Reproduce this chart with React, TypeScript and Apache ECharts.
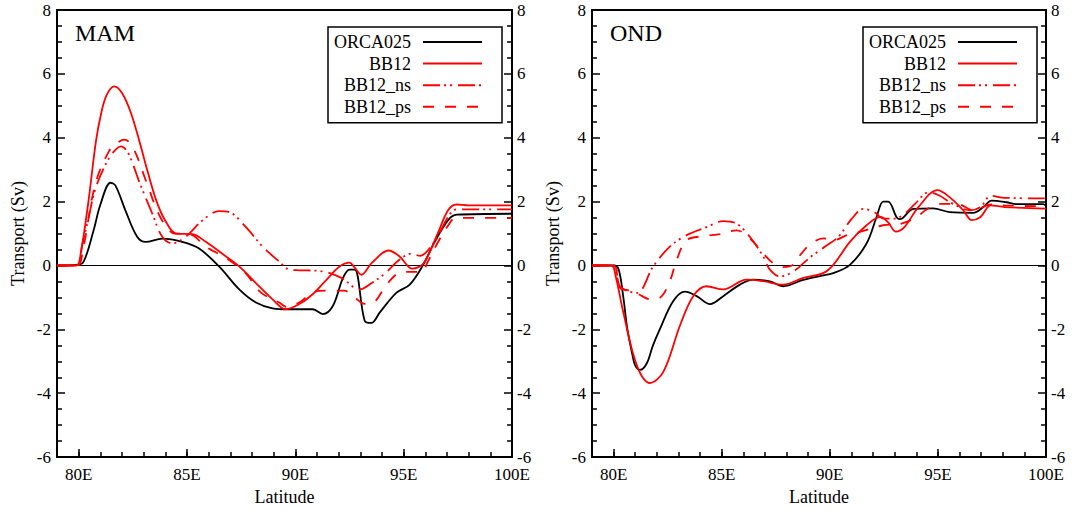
import React, { useEffect, useRef } from 'react';
import * as echarts from 'echarts';

const FONT = 'Liberation Serif';

const seriesNames = ['ORCA025', 'BB12', 'BB12_ns', 'BB12_ps'];
const panelTitles = ['MAM', 'OND'];
const lonTickLabels = ['79', '80', '81', '82', '83', '84', '85', '86', '87', '88', '89', '90', '91', '92', '93', '94', '95', '96', '97', '98', '99', '100'];
const xAxisName = 'Latitude';
const yAxisName = 'Transport (Sv)';

// ---------- MAM ----------
const mamOrcaLon = [79, 79.92, 80.23, 80.69, 81.0, 81.47, 81.7, 82.16, 82.7, 83.09, 83.86, 84.78, 85.56, 86.48, 87.41, 88.18, 88.95, 89.7, 90.8, 91.27, 91.73, 92.2, 92.5, 92.74, 93.2, 93.51, 93.9, 94.67, 95.28, 95.9, 96.4, 97.05, 97.45, 100];
const mamOrcaVal = [0, 0.02, 0.12, 1.1, 1.9, 2.59, 2.5, 1.72, 0.9, 0.74, 0.84, 0.74, 0.53, -0.03, -0.75, -1.16, -1.34, -1.37, -1.37, -1.52, -1.27, -0.39, -0.13, -0.13, -1.73, -1.8, -1.47, -0.85, -0.6, 0.02, 0.7, 1.42, 1.59, 1.62];

const mamBbLon = [79, 79.9, 80.1, 80.45, 80.8, 81.05, 81.3, 81.64, 82.0, 82.4, 82.8, 83.2, 83.6, 84.0, 84.5, 85.25, 85.87, 86.8, 87.41, 88.18, 88.95, 89.55, 90.2, 90.8, 91.5, 92.04, 92.5, 92.74, 93.05, 93.53, 94.3, 94.8, 95.4, 95.93, 96.57, 97.05, 97.45, 98, 100];
const mamBbVal = [0, 0, 0.4, 2.0, 3.9, 4.8, 5.35, 5.61, 5.4, 4.8, 3.9, 2.9, 2.0, 1.4, 1.0, 0.98, 0.74, 0.28, -0.03, -0.55, -1.06, -1.37, -1.2, -0.9, -0.4, -0.03, 0.09, -0.07, -0.29, 0.08, 0.47, 0.29, -0.1, 0.08, 1.0, 1.73, 1.91, 1.88, 1.88];

const mamNsLon = [79, 79.95, 80.15, 80.46, 80.77, 81.24, 81.6, 81.96, 82.3, 82.78, 83.4, 83.86, 84.32, 84.94, 85.71, 86.48, 86.95, 87.72, 88.49, 89.26, 89.73, 90.2, 91.1, 92.1, 92.97, 93.53, 94.17, 94.8, 95.37, 95.77, 96.09, 96.57, 97.05, 97.45, 100];
const mamNsVal = [0, 0, 0.6, 1.5, 2.4, 3.16, 3.55, 3.73, 3.5, 2.65, 1.62, 0.9, 0.69, 0.9, 1.41, 1.7, 1.67, 1.2, 0.59, 0.12, -0.13, -0.15, -0.17, -0.38, -0.75, -0.55, -0.23, 0.18, 0.37, 0.3, 0.45, 0.9, 1.52, 1.76, 1.76];

const mamPsLon = [79, 79.95, 80.2, 80.77, 81.4, 81.8, 82.12, 82.52, 83.16, 83.8, 84.44, 84.92, 85.3, 85.87, 86.8, 87.7, 88.4, 89.26, 89.6, 90.2, 90.82, 91.46, 92.26, 92.74, 93.2, 93.55, 94.17, 94.65, 95.0, 95.5, 95.85, 96.1, 96.6, 97.05, 97.4, 100];
const mamPsVal = [0, 0, 0.5, 2.55, 3.58, 3.85, 3.94, 3.68, 2.55, 1.47, 1.0, 0.99, 0.93, 0.59, 0.23, -0.24, -0.84, -1.16, -1.3, -1.15, -0.84, -0.79, -0.79, -1.0, -1.2, -1.18, -0.64, -0.28, -0.2, -0.2, -0.2, 0.1, 0.75, 1.25, 1.49, 1.49];

// ---------- OND ----------
const ondOrcaLon = [79, 80.0, 80.23, 80.45, 80.63, 80.87, 80.99, 81.22, 81.53, 81.82, 82.14, 82.76, 83.3, 83.84, 84.46, 85.07, 85.84, 86.46, 87.23, 87.84, 88.77, 89.54, 90.16, 90.93, 91.7, 92.16, 92.47, 92.7, 93.09, 93.24, 93.86, 94.78, 95.55, 96.63, 97.09, 97.48, 98.17, 98.63, 99.86, 100];
const ondOrcaVal = [0, 0, -0.12, -1.0, -1.97, -2.8, -3.12, -3.27, -3.07, -2.5, -1.99, -1.11, -0.82, -0.96, -1.21, -0.96, -0.6, -0.44, -0.5, -0.65, -0.45, -0.33, -0.24, 0.02, 0.69, 1.51, 2.0, 2.0, 1.51, 1.45, 1.77, 1.79, 1.67, 1.65, 1.82, 2.03, 1.98, 1.92, 1.92, 1.87];

const ondBbLon = [79, 79.9, 80.1, 80.45, 81.07, 81.68, 82.3, 83.07, 83.68, 84.3, 85.07, 86.15, 86.92, 87.84, 88.77, 89.69, 90.16, 90.93, 91.7, 92.35, 92.7, 93.06, 93.46, 94.1, 94.98, 95.54, 96.17, 96.57, 96.97, 97.45, 98.09, 100];
const ondBbVal = [0, 0, -0.35, -1.47, -3.12, -3.68, -3.33, -1.88, -0.96, -0.65, -0.75, -0.44, -0.49, -0.6, -0.39, -0.24, 0.02, 0.74, 1.26, 1.52, 1.35, 1.06, 1.21, 1.83, 2.36, 2.14, 1.73, 1.42, 1.52, 1.88, 1.83, 1.78];

const ondNsLon = [79, 80.0, 80.3, 81.07, 81.83, 82.6, 83.38, 84.3, 85.07, 85.69, 86.3, 86.92, 87.23, 87.69, 88.31, 89.08, 89.8, 90.4, 91.0, 91.54, 92.03, 92.5, 93.0, 93.46, 93.94, 94.58, 95.06, 95.7, 96.5, 96.97, 97.45, 98.09, 100];
const ondNsVal = [0, 0, -0.65, -0.86, -0.03, 0.59, 0.95, 1.2, 1.39, 1.31, 0.9, 0.28, -0.13, -0.34, -0.19, 0.25, 0.6, 0.9, 1.45, 1.77, 1.68, 1.47, 1.47, 1.62, 1.93, 2.29, 2.19, 1.93, 1.73, 1.83, 2.18, 2.12, 2.1];

const ondPsLon = [79, 80.0, 80.3, 80.9, 81.3, 81.68, 82.14, 82.6, 82.92, 83.38, 84.15, 84.92, 85.69, 86.3, 86.92, 87.38, 87.84, 88.31, 88.6, 89.08, 89.7, 90.2, 90.8, 91.39, 92.47, 93.24, 94.01, 94.42, 95.06, 95.86, 96.65, 97.45, 98.09, 100];
const ondPsVal = [0, 0, -0.7, -0.8, -0.95, -1.06, -1.01, -0.49, 0.18, 0.79, 0.92, 0.98, 1.1, 0.85, 0.38, 0.07, -0.05, 0.02, 0.3, 0.65, 0.85, 0.8, 0.95, 1.05, 1.26, 1.3, 1.51, 1.73, 1.93, 1.93, 1.73, 1.91, 1.88, 1.85];

const panels = [
  { lons: [mamOrcaLon, mamBbLon, mamNsLon, mamPsLon], vals: [mamOrcaVal, mamBbVal, mamNsVal, mamPsVal] },
  { lons: [ondOrcaLon, ondBbLon, ondNsLon, ondPsLon], vals: [ondOrcaVal, ondBbVal, ondNsVal, ondPsVal] },
];

const lineColors = ['#000000', '#ff0000', '#ff0000', '#ff0000'];
const lineTypes: any[] = ['solid', 'solid', [17, 4, 2, 4, 2, 6], [11, 11]];

const GRID_LEFT = [57, 592];
const GRID_WIDTH = [455, 454];
const GRID_TOP = 10;
const GRID_HEIGHT = 453;

const tickRich = { s: { fontFamily: FONT, fontSize: 17, color: '#000' } };
const nameRich = { s: { fontFamily: FONT, fontSize: 18, color: '#000' } };

function buildOption() {
  const grid = [0, 1].map((i) => ({
    left: GRID_LEFT[i],
    top: GRID_TOP,
    width: GRID_WIDTH[i],
    height: GRID_HEIGHT,
    show: true,
    borderColor: '#000',
    borderWidth: 2,
    backgroundColor: 'transparent',
  }));

  const isMajor = (_idx: number, v: string) => Number(v) % 5 === 0;
  const xAxis: any[] = [];
  [0, 1].forEach((i) => {
    xAxis.push({
      type: 'value',
      gridIndex: i,
      position: 'bottom',
      min: 79,
      max: 100,
      interval: 1,
      axisLine: { show: true, onZero: false, lineStyle: { color: '#000', width: 2 } },
      axisTick: { show: true, inside: true, length: 5, lineStyle: { color: '#000', width: 1.5 } },
      axisLabel: { show: false },
      splitLine: { show: false },
    });
    xAxis.push({
      type: 'category',
      gridIndex: i,
      position: 'bottom',
      data: lonTickLabels,
      boundaryGap: false,
      axisLine: { show: false, onZero: false },
      axisTick: { show: true, inside: true, length: 8, interval: isMajor, lineStyle: { color: '#000', width: 1.5 } },
      axisLabel: {
        interval: isMajor,
        formatter: (v: string) => '{s|' + v + 'E}',
        rich: tickRich,
        margin: 9,
        fontFamily: FONT,
        fontSize: 17,
        color: '#000',
        hideOverlap: false,
        showMaxLabel: true,
        showMinLabel: true,
      },
      splitLine: { show: false },
      name: '{s|' + xAxisName + '}',
      nameLocation: 'middle',
      nameGap: 29,
      nameTextStyle: { fontFamily: FONT, fontSize: 18, color: '#000', rich: nameRich },
    });
  });

  const yAxis: any[] = [];
  [0, 1].forEach((i) => {
    ['left', 'right'].forEach((pos) => {
      yAxis.push({
        type: 'value',
        gridIndex: i,
        position: pos,
        min: -6,
        max: 8,
        interval: 2,
        axisLine: { show: true, onZero: false, lineStyle: { color: '#000', width: 2 } },
        axisTick: { show: true, inside: true, length: 8, lineStyle: { color: '#000', width: 1.5 } },
        minorTick: { show: true, splitNumber: 4, length: 5, lineStyle: { color: '#000', width: 1.5 } },
        axisLabel: {
          margin: pos === 'left' ? 6 : 5,
          formatter: (v: number) => '{s|' + v + '}',
          rich: tickRich,
          fontFamily: FONT,
          fontSize: 17,
          color: '#000',
        },
        splitLine: { show: false },
        name: pos === 'left' ? '{s|' + yAxisName + '}' : '',
        nameLocation: 'middle',
        nameGap: 30,
        nameTextStyle: { fontFamily: FONT, fontSize: 18, color: '#000', rich: nameRich },
      });
    });
  });

  const series: any[] = [];
  panels.forEach((p, pi) => {
    seriesNames.forEach((name, si) => {
      const lon = p.lons[si];
      const val = p.vals[si];
      const s: any = {
        name,
        type: 'line',
        xAxisIndex: pi * 2,
        yAxisIndex: pi * 2,
        data: lon.map((x, k) => [x, val[k]]),
        symbol: 'none',
        showSymbol: false,
        smooth: 0.35,
        lineStyle: { color: lineColors[si], width: 1.8, type: lineTypes[si] },
        itemStyle: { color: lineColors[si] },
        emphasis: { disabled: true },
        silent: true,
        z: 3,
      };
      if (si === 0) {
        s.markLine = {
          silent: true,
          symbol: ['none', 'none'],
          label: { show: false },
          lineStyle: { color: '#000', width: 1, type: 'solid' },
          data: [{ yAxis: 0 }],
          z: 1,
        };
      }
      series.push(s);
    });
  });

  const legend = [0, 1].map((i) => ({
    orient: 'vertical',
    align: 'right',
    left: i === 0 ? 328 : 863,
    top: 27,
    itemWidth: 59,
    itemHeight: 14,
    itemGap: 3.6,
    padding: [6, 19, 7, 6],
    backgroundColor: '#fff',
    borderColor: '#000',
    borderWidth: 1.5,
    borderRadius: 0,
    selectedMode: false,
    data: seriesNames,
    itemStyle: { opacity: 0 },
    textStyle: { fontFamily: FONT, fontSize: 18, color: '#000', padding: [0, 7, 0, 0] },
  }));

  const title = [0, 1].map((i) => ({
    text: panelTitles[i],
    left: i === 0 ? 75 : 610,
    top: 21,
    padding: 0,
    textStyle: { fontFamily: FONT, fontSize: 24, fontWeight: 'normal', color: '#000' },
  }));

  return {
    animation: false,
    backgroundColor: '#fff',
    textStyle: { fontFamily: FONT },
    title,
    legend,
    grid,
    xAxis,
    yAxis,
    series,
  };
}

export default function App() {
  const ref = useRef<HTMLDivElement>(null);
  useEffect(() => {
    if (!ref.current) return;
    const chart = echarts.init(ref.current, undefined, { renderer: 'svg' });
    chart.setOption(buildOption() as any);
    return () => chart.dispose();
  }, []);
  return (
    <div
      ref={ref}
      style={{ position: 'fixed', left: 0, top: 0, width: 1076, height: 511, background: '#fff' }}
    />
  );
}
